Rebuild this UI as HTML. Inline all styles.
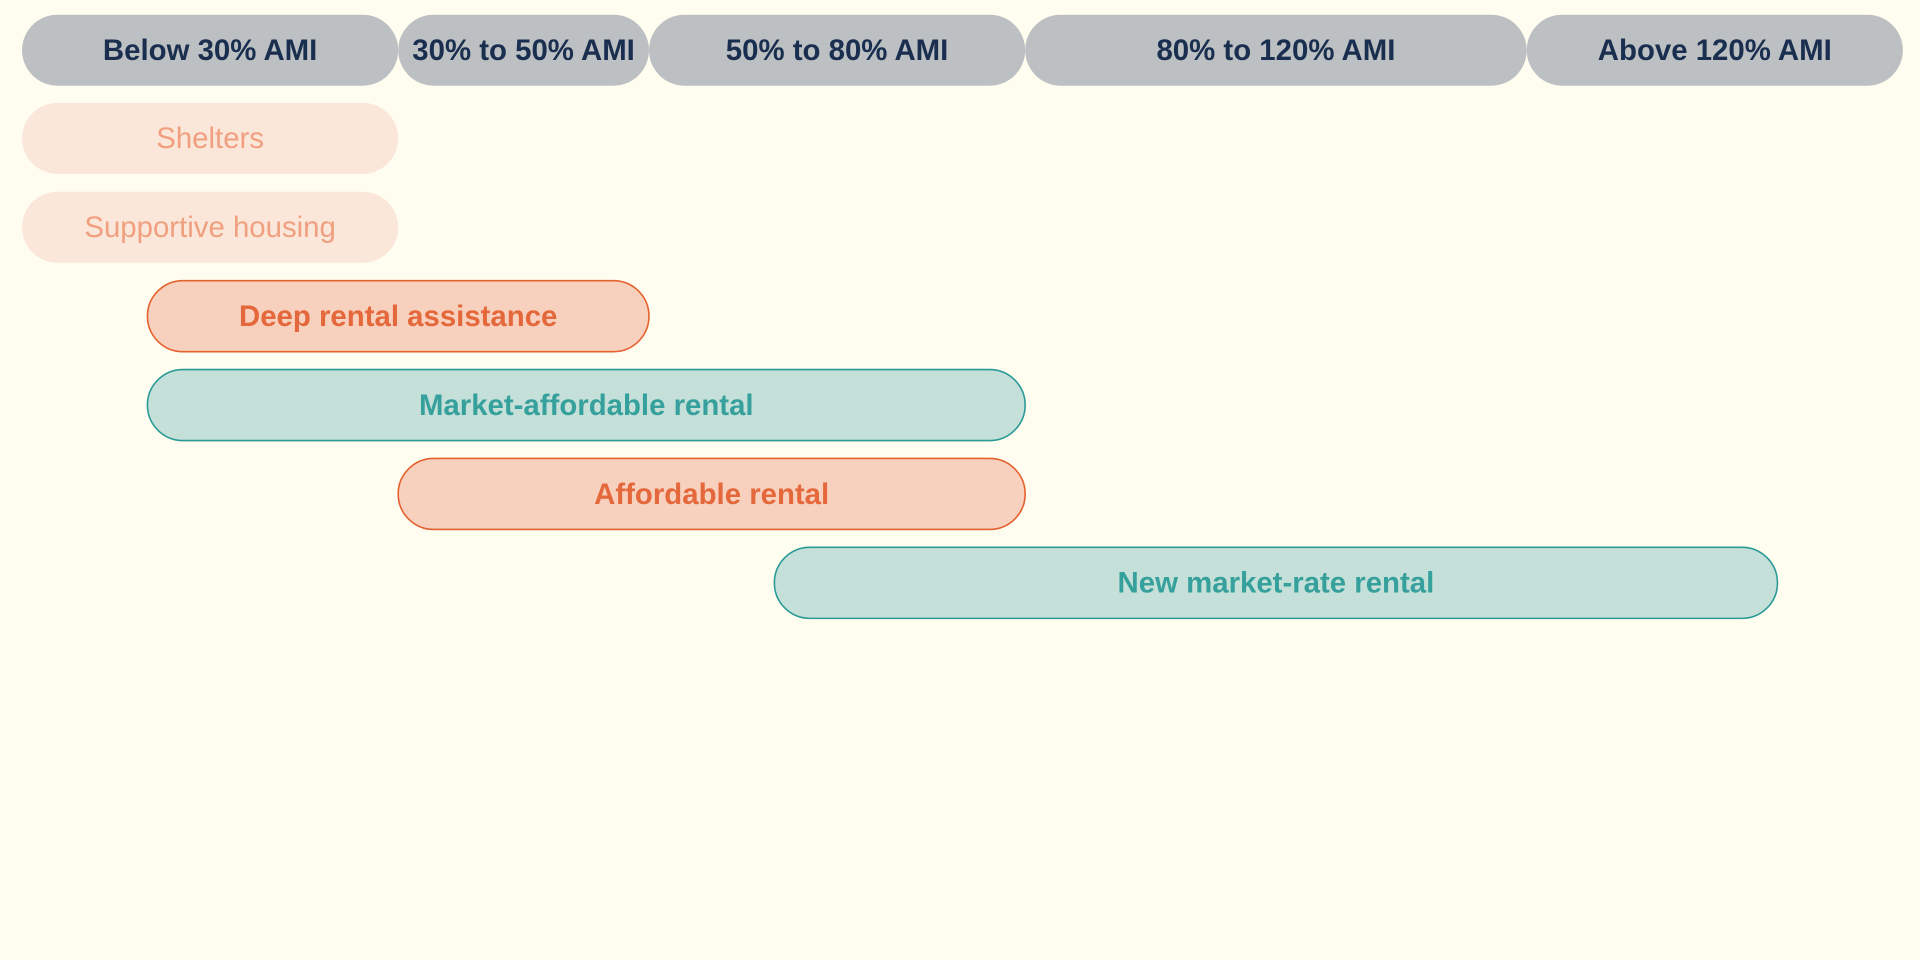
<!DOCTYPE html>
<html><head><meta charset="utf-8"><style>
html,body{margin:0;padding:0;background:#fffdf0;}
svg{display:block;}
text{font-family:"Liberation Sans",Arial,sans-serif;}
</style></head><body>
<svg id="chart" width="1920" height="960" viewBox="0 0 1568 784" xmlns="http://www.w3.org/2000/svg">
<rect x="0" y="0" width="1568" height="784" fill="#fffdf0"/>
</svg>
<script>
const bandLabels = ["Below 30% AMI","30% to 50% AMI","50% to 80% AMI","80% to 120% AMI","Above 120% AMI"];
const bandEdges = [0,30,50,80,120,150];
const barLabels = ["Shelters","Supportive housing","Deep rental assistance","Market-affordable rental","Affordable rental","New market-rate rental"];
const barStart = [0,0,10,10,30,60];
const barEnd = [30,30,50,80,80,140];
const barStyle = ["faint","faint","orange","teal","orange","teal"];

const svg = document.getElementById('chart');
const NS = "http://www.w3.org/2000/svg";
const xScale = v => 18 + v * 10.24;
const rowY = i => 113 + i * 72.6;
const H = 58;
const styles = {
  header:{fill:"#bcc0c2",stroke:"none",text:"#1a2e4f",weight:"bold"},
  faint:{fill:"#fbe6da",stroke:"none",text:"#f0a07f",weight:"normal"},
  orange:{fill:"#f7d1bd",stroke:"#e4622f",text:"#e4683c",weight:"bold"},
  teal:{fill:"#c5e0d8",stroke:"#2a9a97",text:"#36a09c",weight:"bold"}
};
function pill(x0,x1,cy,st,label,name){
  const g=document.createElementNS(NS,'g');
  
  
  const r=document.createElementNS(NS,'rect');
  r.setAttribute('x',x0);r.setAttribute('y',cy-H/2);
  r.setAttribute('width',x1-x0);r.setAttribute('height',H);
  r.setAttribute('rx',H/2);r.setAttribute('ry',H/2);
  r.setAttribute('fill',st.fill);
  if(st.stroke!=="none"){r.setAttribute('stroke',st.stroke);r.setAttribute('stroke-width','1.3');}
  
  
  g.appendChild(r);
  const t=document.createElementNS(NS,'text');
  t.setAttribute('x',(x0+x1)/2);t.setAttribute('y',cy+8);
  t.setAttribute('text-anchor','middle');t.setAttribute('font-size','24');
  t.setAttribute('font-weight',st.weight);t.setAttribute('fill',st.text);
  t.textContent=label;
  
  
  g.appendChild(t);
  svg.appendChild(g);
}
bandLabels.forEach((l,i)=>{
  pill(xScale(bandEdges[i]),xScale(bandEdges[i+1]),41,styles.header,l,'header-band-'+(i+1));
});
barLabels.forEach((l,i)=>{
  pill(xScale(barStart[i]),xScale(barEnd[i]),rowY(i),styles[barStyle[i]],l,'bar-'+l.toLowerCase().replace(/[^a-z]+/g,'-'));
});
</script>
</body></html>
